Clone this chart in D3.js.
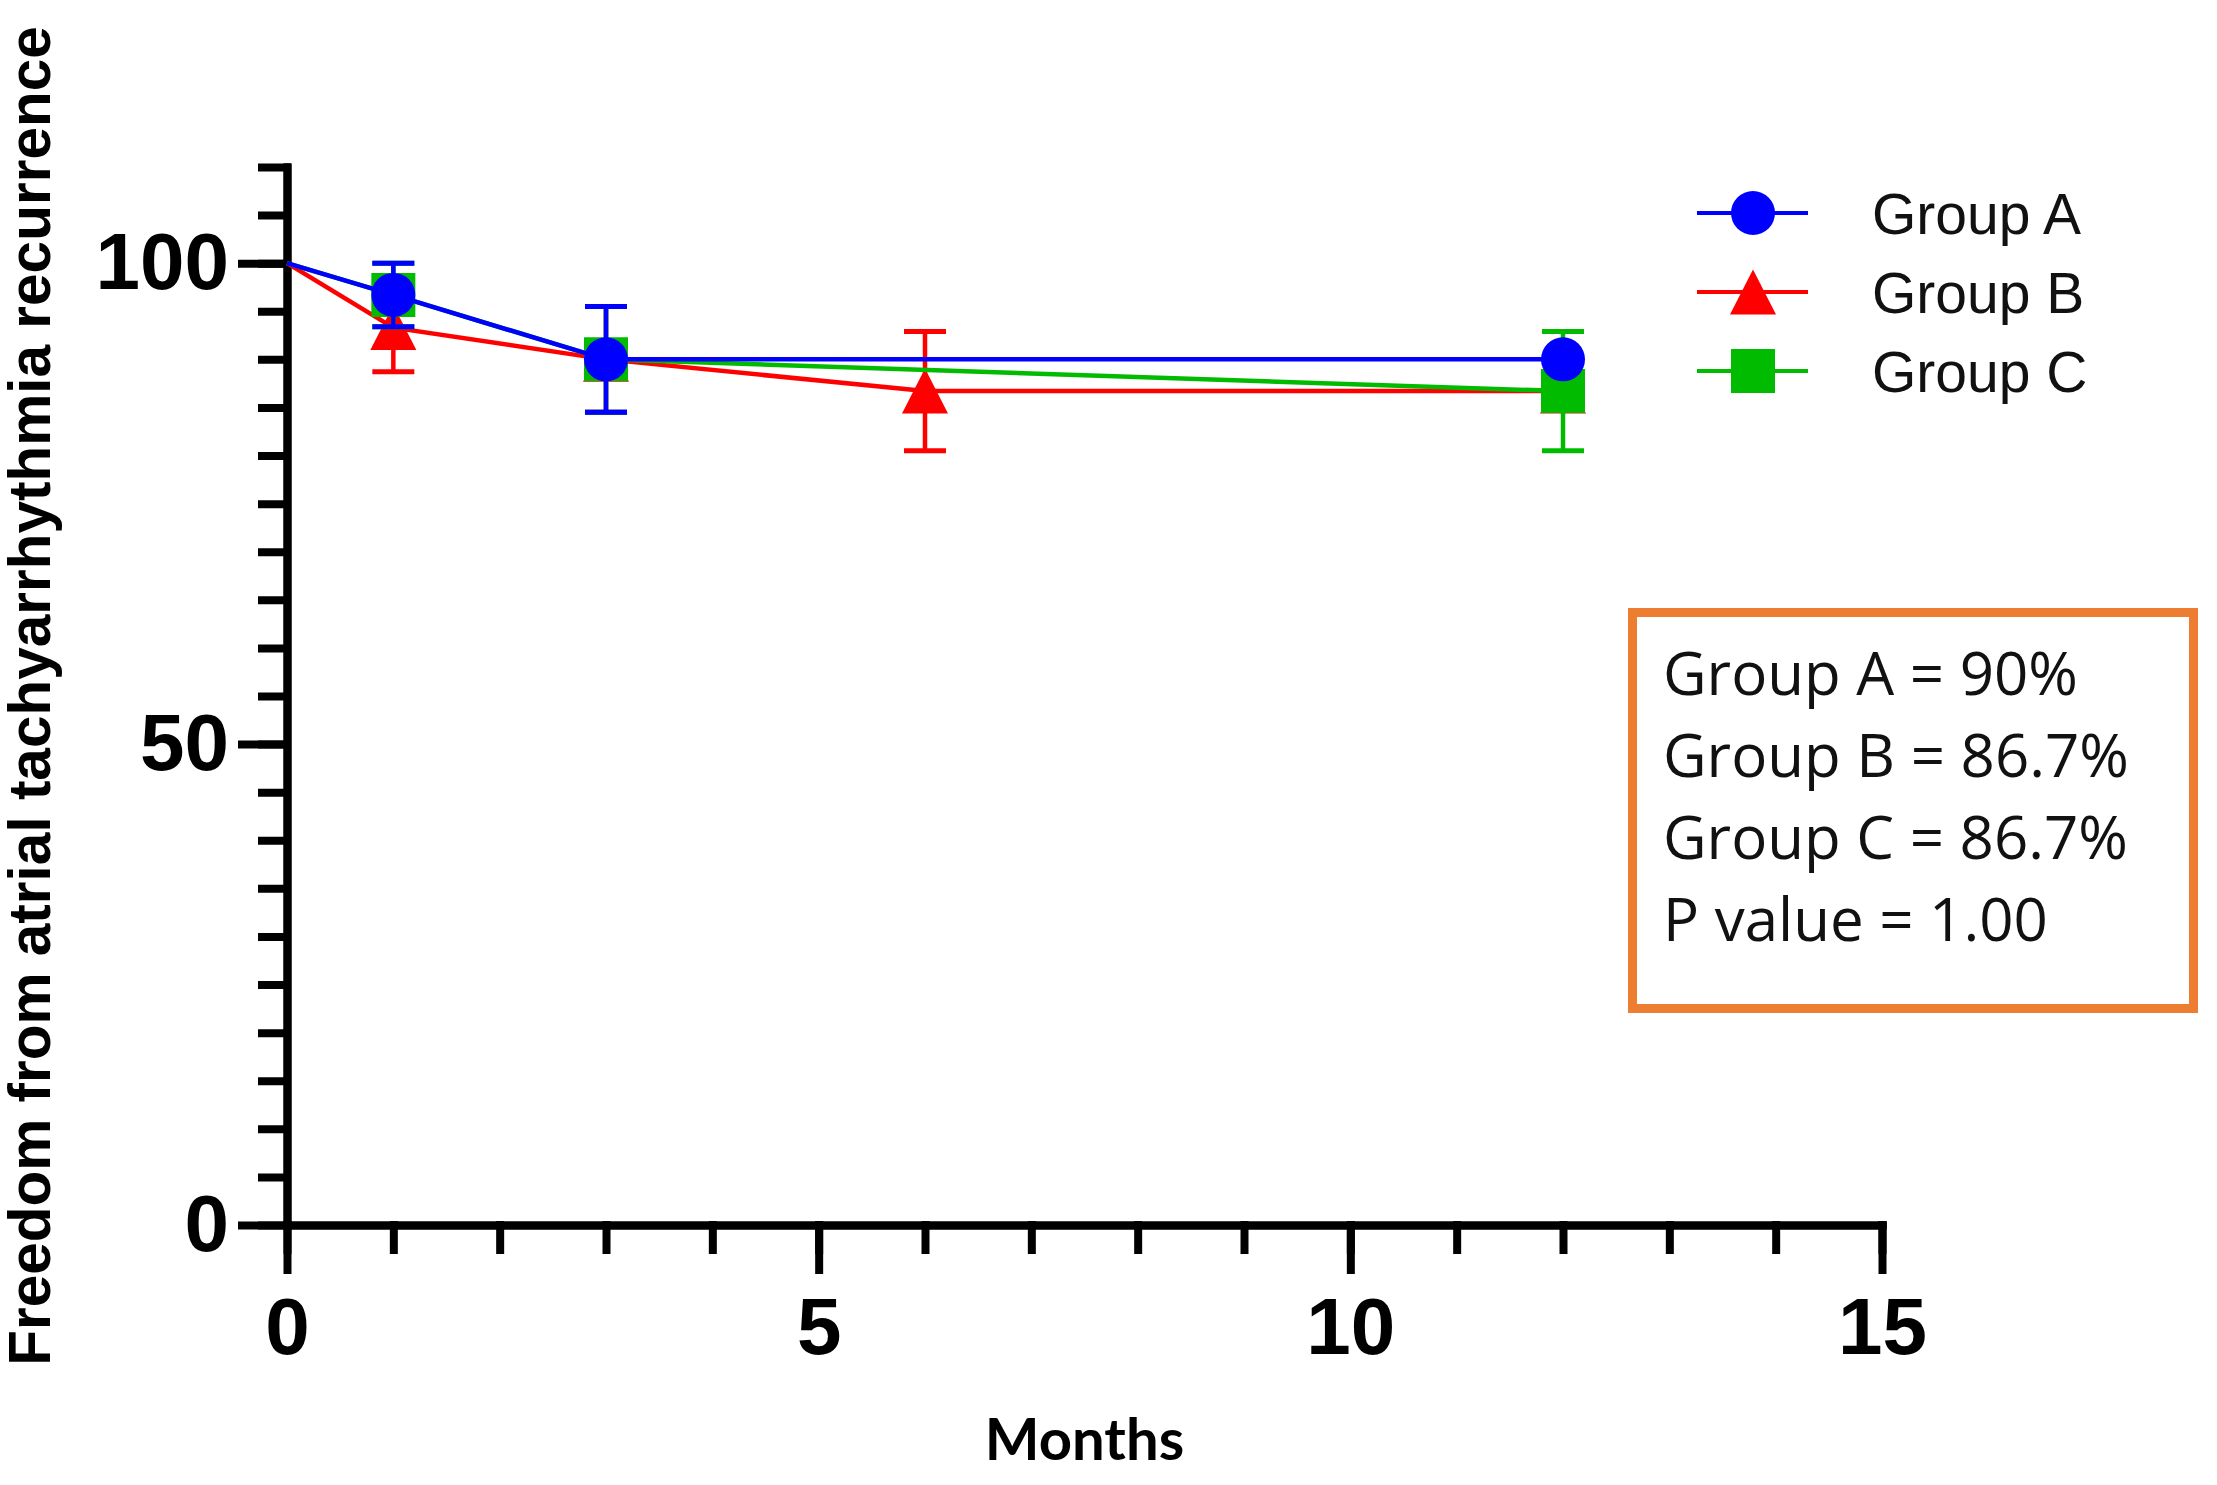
<!DOCTYPE html>
<html>
<head>
<meta charset="utf-8">
<script src="https://cdn.jsdelivr.net/npm/d3@7"></script>
<style>
  body { margin: 0; background: #fff; }
  .axis path, .axis line { stroke: #000; stroke-width: 8; stroke-linecap: square; }
  .axis text { font-family: "Liberation Sans", Arial, sans-serif; font-weight: bold; font-size: 80px; fill: #000; }
</style>
</head>
<body>
<div id="chart"></div>
<script>
// ---- data ----
const groups = ["Group A", "Group B", "Group C"];
const groupColors = ["#0000ff", "#ff0000", "#00bb00"];
const groupSymbols = ["circle", "triangle", "square"];

const monthsA = [0, 1, 3, 12];
const survivalA = [100, 96.7, 90, 90];
const errorA = [null, 3.3, 5.5, null];

const monthsB = [0, 1, 3, 6, 12];
const survivalB = [100, 93.3, 90, 86.7, 86.7];
const errorB = [null, 4.6, 5.5, 6.2, null];

const monthsC = [0, 1, 3, 12];
const survivalC = [100, 96.7, 90, 86.7];
const errorC = [null, 3.3, 5.5, 6.2];

const xMajorTicks = [0, 5, 10, 15];
const xMinorTicks = d3.range(0, 16, 1);
const yMajorTicks = [0, 50, 100];
const yMinorTicks = d3.range(0, 111, 5);

const summaryLines = ["Group A = 90%", "Group B = 86.7%", "Group C = 86.7%", "P value = 1.00"];

const xTitle = "Months";
const yTitle = "Freedom from atrial tachyarrhythmia recurrence";

function buildSeries(months, values, errors) {
    return months.map((m, i) => ({ x: m, y: values[i], err: errors[i] }));
}
const series = [
    buildSeries(monthsA, survivalA, errorA),
    buildSeries(monthsB, survivalB, errorB),
    buildSeries(monthsC, survivalC, errorC)
];

// ---- layout ----
const width = 2217, height = 1485;
const x = d3.scaleLinear().domain([0, 15]).range([287, 1882]);
const y = d3.scaleLinear().domain([0, 110]).range([1225, 167]);

const svg = d3.select("#chart").append("svg")
    .attr("width", width)
    .attr("height", height)
    .style("display", "block");

// marker shapes
function markerPath(kind) {
    if (kind === "circle") return d3.symbol().type(d3.symbolCircle).size(Math.PI * 22 * 22)();
    if (kind === "square") return d3.symbol().type(d3.symbolSquare).size(44 * 44)();
    // triangle, a bit taller than equilateral like the original
    const w = 46, h = 45;
    return `M0,${-h / 2}L${w / 2},${h / 2}L${-w / 2},${h / 2}Z`;
}

// ---- axes: minor ticks first, then major ticks with labels ----
svg.append("g")
    .attr("class", "axis")
    .attr("transform", `translate(${x(0)},0)`)
    .call(d3.axisLeft(y).tickValues(yMinorTicks).tickSize(25).tickSizeOuter(0).tickFormat(""));
svg.append("g")
    .attr("class", "axis")
    .attr("transform", `translate(${x(0)},0)`)
    .call(d3.axisLeft(y).tickValues(yMajorTicks).tickSize(45).tickSizeOuter(0).tickPadding(13));

svg.append("g")
    .attr("class", "axis")
    .attr("transform", `translate(0,${y(0)})`)
    .call(d3.axisBottom(x).tickValues(xMinorTicks).tickSize(25).tickSizeOuter(0).tickFormat(""));
svg.append("g")
    .attr("class", "axis")
    .attr("transform", `translate(0,${y(0)})`)
    .call(d3.axisBottom(x).tickValues(xMajorTicks).tickSize(45).tickSizeOuter(0).tickPadding(27));

// axis titles
svg.append("text")
    .attr("transform", `translate(50,${(y(0) + y(110)) / 2}) rotate(-90)`)
    .attr("text-anchor", "middle")
    .style("font-family", "'Liberation Sans', Arial, sans-serif")
    .style("font-weight", "bold")
    .style("font-size", "58.5px")
    .text(yTitle);

svg.append("text")
    .attr("x", (x(0) + x(15)) / 2)
    .attr("y", 1460)
    .attr("text-anchor", "middle")
    .style("font-family", "Lato, 'Open Sans', sans-serif")
    .style("font-weight", "bold")
    .style("font-size", "58px")
    .text(xTitle);

// ---- series (drawn B, C, A so Group A sits on top) ----
const line = d3.line().x(d => x(d.x)).y(d => y(d.y));
[1, 2, 0].forEach(i => {
    const g = svg.append("g");
    const color = groupColors[i];

    g.append("path")
        .datum(series[i])
        .attr("d", line)
        .attr("fill", "none")
        .attr("stroke", color)
        .attr("stroke-width", 4.5);

    const withErr = series[i].filter(d => d.err != null);
    withErr.forEach(d => {
        g.append("line")
            .attr("x1", x(d.x)).attr("x2", x(d.x))
            .attr("y1", y(d.y + d.err)).attr("y2", y(d.y - d.err))
            .attr("stroke", color).attr("stroke-width", 4.5);
        [d.y + d.err, d.y - d.err].forEach(v => {
            g.append("line")
                .attr("x1", x(d.x) - 21).attr("x2", x(d.x) + 21)
                .attr("y1", y(v)).attr("y2", y(v))
                .attr("stroke", color).attr("stroke-width", 5);
        });
    });

    g.selectAll("path.marker")
        .data(series[i].filter(d => d.x > 0))
        .join("path")
        .attr("class", "marker")
        .attr("d", markerPath(groupSymbols[i]))
        .attr("transform", d => `translate(${x(d.x)},${y(d.y)})`)
        .attr("fill", color);
});

// ---- legend ----
const legend = svg.append("g").attr("transform", "translate(1697,213)");
groups.forEach((name, i) => {
    const row = legend.append("g").attr("transform", `translate(0,${i * 79})`);
    row.append("line")
        .attr("x1", 0).attr("x2", 111)
        .attr("stroke", groupColors[i]).attr("stroke-width", 4);
    row.append("path")
        .attr("d", markerPath(groupSymbols[i]))
        .attr("transform", "translate(56,0)")
        .attr("fill", groupColors[i]);
    row.append("text")
        .attr("x", 175)
        .attr("y", 21)
        .style("font-family", "'Liberation Sans', Arial, sans-serif")
        .style("font-size", "57px")
        .attr("fill", "#111")
        .text(name);
});

// ---- summary box ----
svg.append("rect")
    .attr("x", 1632.5).attr("y", 612.5)
    .attr("width", 561).attr("height", 396)
    .attr("fill", "none")
    .attr("stroke", "#ed7d31")
    .attr("stroke-width", 9);

svg.append("g").selectAll("text")
    .data(summaryLines)
    .join("text")
    .attr("x", 1663)
    .attr("y", (d, i) => 695 + i * 82)
    .style("font-family", "'Open Sans', Lato, sans-serif")
    .style("font-size", "60px")
    .attr("fill", "#111")
    .text(d => d);
</script>
</body>
</html>
